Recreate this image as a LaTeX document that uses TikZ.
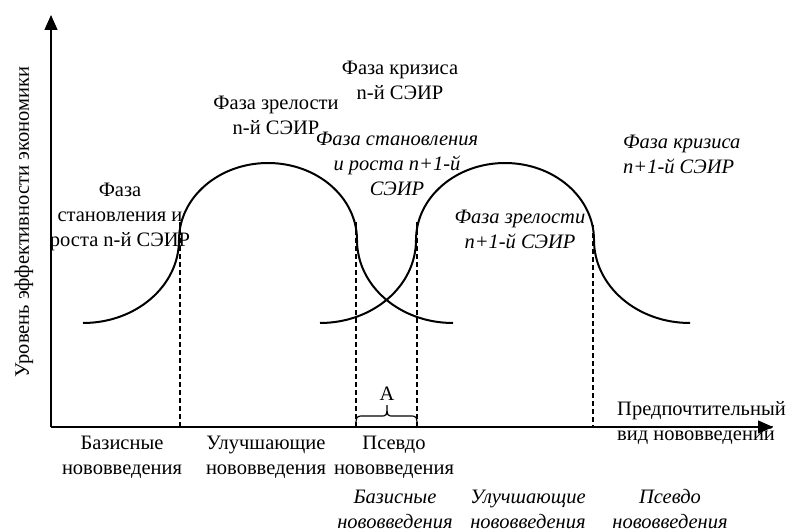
\documentclass[tikz,border=0pt]{standalone}
\usepackage{fontspec}
\setmainfont{Liberation Serif}
\usetikzlibrary{arrows.meta}
\begin{document}
\begin{tikzpicture}[x=1pt,y=-1pt,
  lbl/.style={inner sep=0pt,align=center,font=\fontsize{20.5}{25}\selectfont},
  ilbl/.style={lbl,font=\fontsize{20.5}{25}\selectfont\itshape},
  axis/.style={line width=1.3pt,-{Triangle[length=15pt,width=13pt]}},
  curve/.style={line width=2pt},
  guide/.style={line width=1.1pt,dash pattern=on 5pt off 3pt}]
\useasboundingbox (0,0) rectangle (797,532);
% axes
\coordinate (O) at (51,427);
\coordinate (Ytop) at (51,15);
\coordinate (Xend) at (773,427);
\draw[axis] (O) -- (Ytop);
\draw[axis] (O) -- (Xend);
% curve 1 (n-th)
\draw[curve] (83,323) .. controls (136,323) and (179,286) .. (179,240)
  .. controls (179,197.5) and (218.8,163) .. (268,163)
  .. controls (317.2,163) and (357,197.5) .. (357,240)
  .. controls (357,286) and (400,323) .. (453,323);
% curve 2 (n+1-th)
\draw[curve] (320,323) .. controls (373,323) and (416,286) .. (416,240)
  .. controls (416,197.5) and (455.8,163) .. (505,163)
  .. controls (554.2,163) and (594,197.5) .. (594,240)
  .. controls (594,286) and (637,323) .. (690,323);
% guides
\coordinate (g1t) at (180,222); \coordinate (g1b) at (180,427);
\coordinate (g2t) at (356,222); \coordinate (g2b) at (356,427);
\coordinate (g3t) at (417,222); \coordinate (g3b) at (417,427);
\coordinate (g4t) at (593,225); \coordinate (g4b) at (593,427);
\draw[guide] (g1t) -- (g1b);
\draw[guide] (g2t) -- (g2b);
\draw[guide] (g3t) -- (g3b);
\draw[guide] (g4t) -- (g4b);
% brace A
\node[lbl] (A) at (387,394) {A};
\draw[line width=1.2pt] (g2b) .. controls (356,416) .. (364,416) -- (380,416)
  .. controls (387,416) .. (387,405) .. controls (387,416) .. (394,416) -- (409,416)
  .. controls (417,416) .. (g3b);
% y label
\node[lbl,rotate=90] (ylab) at (24,222) {Уровень эффективности экономики};
% phase labels
\node[lbl] (stan1) at (120,217) {Фаза\\становления и\\роста n-й СЭИР};
\node[lbl] (zrel1) at (276,115.5) {Фаза зрелости\\n-й СЭИР};
\node[lbl] (kriz1) at (400,80.5) {Фаза кризиса\\n-й СЭИР};
\node[ilbl] (stan2) at (397,164) {Фаза становления\\и роста n+1-й\\СЭИР};
\node[ilbl] (zrel2) at (520,229.5) {Фаза зрелости\\n+1-й СЭИР};
\node[ilbl,anchor=west,align=left] (kriz2) at (623,154.5) {Фаза кризиса\\n+1-й СЭИР};
% x label
\node[lbl,anchor=west,align=left] (xlab) at (617,423) {Предпочтительный\\вид нововведений};
% bottom labels
\node[lbl] (b1) at (122,457.5) {Базисные\\нововведения};
\node[lbl] (b2) at (266,457.5) {Улучшающие\\нововведения};
\node[lbl] (b3) at (394,457.5) {Псевдо\\нововведения};
\node[ilbl] (c1) at (395,509) {Базисные\\нововведения};
\node[ilbl] (c2) at (528,509) {Улучшающие\\нововведения};
\node[ilbl] (c3) at (670,509) {Псевдо\\нововведения};
\end{tikzpicture}
\end{document}
